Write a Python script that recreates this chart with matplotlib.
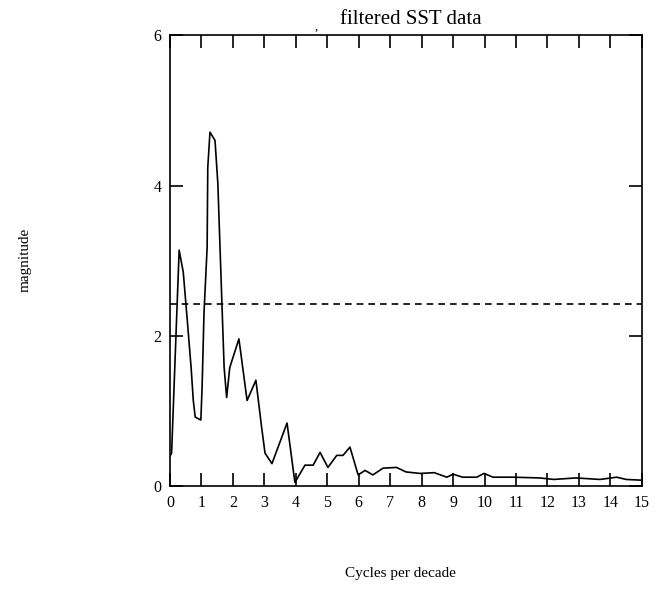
import matplotlib.pyplot as plt

# spectrum of filtered SST
freq = [0.0, 0.05, 0.29, 0.42, 0.55, 0.67, 0.74, 0.80, 0.98, 1.02, 1.08, 1.18, 1.20, 1.27,
        1.43, 1.52, 1.65, 1.72, 1.80, 1.90, 2.19, 2.45, 2.73, 2.91, 3.02, 3.24, 3.72, 3.97,
        4.29, 4.55, 4.77, 5.02, 5.30, 5.50, 5.72, 5.98, 6.20, 6.45, 6.77, 7.20, 7.50, 7.95,
        8.40, 8.80, 9.00, 9.30, 9.75, 9.98, 10.27, 10.90, 11.75, 12.20, 12.90, 13.67, 14.20,
        14.50, 15.0]
mag = [0.40, 0.44, 3.14, 2.85, 2.20, 1.58, 1.14, 0.92, 0.88, 1.32, 2.30, 3.18, 4.24, 4.71,
       4.60, 4.03, 2.43, 1.58, 1.18, 1.58, 1.96, 1.14, 1.41, 0.79, 0.44, 0.30, 0.84, 0.05,
       0.28, 0.28, 0.45, 0.25, 0.41, 0.41, 0.52, 0.15, 0.21, 0.15, 0.24, 0.25, 0.19, 0.17,
       0.18, 0.12, 0.16, 0.12, 0.12, 0.17, 0.12, 0.12, 0.11, 0.09, 0.11, 0.09, 0.12,
       0.09, 0.08]
threshold = 2.43

plt.rcParams['font.family'] = ['Liberation Serif', 'DejaVu Serif']

fig = plt.figure(figsize=(6.59, 6.07), dpi=100)
ax = fig.add_axes([0.258, 0.199, 0.716, 0.743])

ax.plot(freq, mag, color='black', linewidth=1.2)
ax.axhline(threshold, color='black', linestyle=(0, (4, 3)), linewidth=1.2)

ax.set_xlim(0, 15)
ax.set_ylim(0, 6)
ax.set_xticks(range(0, 16))
ax.set_yticks([0, 2, 4, 6])
ax.tick_params(direction='in', length=9.5, width=1.2, top=True, right=True,
               labelsize=11.5, pad=6)
for s in ax.spines.values():
    s.set_linewidth(1.2)

ax.set_title('filtered SST data', fontsize=15, pad=8, x=0.51)
ax.text(0.31, 1.005, ',', transform=ax.transAxes, fontsize=9, ha='center', va='bottom')

fig.text(25 / 659, 1 - 260 / 607, 'magnitude', rotation=90, ha='center', va='center', fontsize=11)
fig.text(400 / 659, 1 - 573 / 607, 'Cycles per decade', ha='center', va='center', fontsize=11)

fig.savefig('out.png', dpi=100)
